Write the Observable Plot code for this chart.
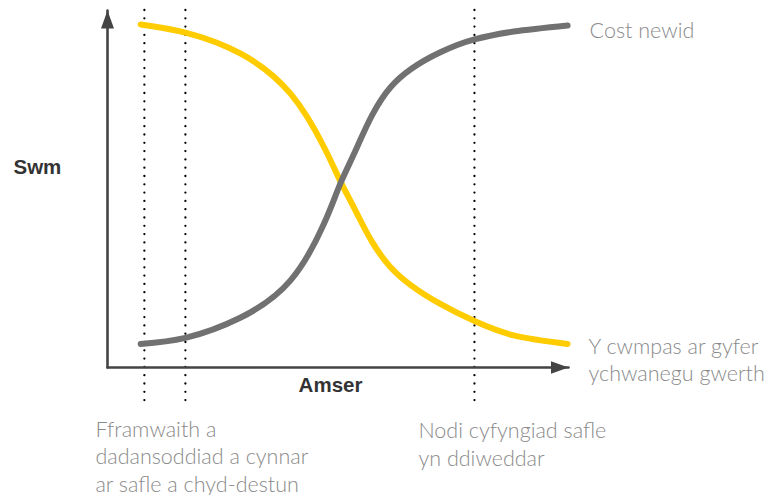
<!DOCTYPE html>
<html>
<head>
<meta charset="utf-8">
<script src="https://cdn.jsdelivr.net/npm/d3@7"></script>
<script src="https://cdn.jsdelivr.net/npm/@observablehq/plot@0.6"></script>
<style>
  html, body { margin: 0; padding: 0; background: #fff; }
  #chart svg { display: block; }
</style>
</head>
<body>
<div id="chart"></div>
<script>
// ---- Data ----
const time = [7.2, 16.9, 28.9, 39.7, 46.9, 50.5, 54.2, 61.4, 72.2, 79.6, 88.1, 99.8];
const scopeValues = [96.1, 93.8, 87.9, 76.7, 61.9, 52.2, 42.9, 28.1, 17.8, 13.0, 9.0, 6.6];
const costValues  = [6.6, 8.3, 14.0, 24.4, 40.1, 51.5, 61.9, 78.5, 88.3, 91.9, 94.1, 95.8];
const seriesNames = ["Y cwmpas ar gyfer\nychwanegu gwerth", "Cost newid"];
const milestones = [8.0, 16.9, 79.6];
const earlyLabel = "Fframwaith a\ndadansoddiad a cynnar\nar safle a chyd-destun";
const lateLabel = "Nodi cyfyngiad safle\nyn ddiweddar";
const yTitle = "Swm";
const xTitle = "Amser";
const xDomain = [0, 100];
const yDomain = [0, 100];

// ---- Derived tables ----
const scope = time.map((t, i) => ({series: seriesNames[0], t, v: scopeValues[i]}));
const cost = time.map((t, i) => ({series: seriesNames[1], t, v: costValues[i]}));
const axes = [
  {axis: "y", t: xDomain[0], v: yDomain[0]},
  {axis: "y", t: xDomain[0], v: yDomain[1]},
  {axis: "x", t: xDomain[0], v: yDomain[0]},
  {axis: "x", t: xDomain[1], v: yDomain[0]}
];

const AXIS = "#444444";
const YELLOW = "#FFCC00";
const GREY = "#717171";
const LABEL = "#8a8a8a";
const LIGHT_FONT = "Lato, 'Open Sans', sans-serif";
const LIGHT_SIZE = 21.5;
const BOLD_FONT = "'Liberation Sans', Arial, sans-serif";

// filled triangular arrowhead
function arrowHead(color, context) {
  const m = d3.create("svg:marker")
    .attr("viewBox", "-18 -6.5 18 13")
    .attr("markerUnits", "userSpaceOnUse")
    .attr("markerWidth", 18)
    .attr("markerHeight", 13)
    .attr("refX", 0)
    .attr("refY", 0)
    .attr("orient", "auto")
    .attr("fill", AXIS)
    .attr("stroke", "none");
  m.append("path").attr("d", "M-18,-6.5L0,0L-18,6.5Z");
  return m.node();
}

const chart = Plot.plot({
  width: 768,
  height: 495,
  marginLeft: 107,
  marginRight: 200,
  marginTop: 10,
  marginBottom: 128,
  x: {domain: xDomain, axis: null},
  y: {domain: yDomain, axis: null},
  style: {background: "#fff", overflow: "visible"},
  marks: [
    // dotted milestone lines
    Plot.ruleX(milestones, {
      stroke: "#000", strokeWidth: 2.3, strokeDasharray: "0 8.3",
      strokeLinecap: "round", insetBottom: -38, insetTop: 0
    }),
    // axes with arrowheads
    Plot.line(axes, {x: "t", y: "v", z: "axis", stroke: AXIS, strokeWidth: 2.6, markerEnd: arrowHead}),
    // curves
    Plot.line(scope, {x: "t", y: "v", stroke: YELLOW, strokeWidth: 6, curve: "natural", strokeLinecap: "round"}),
    Plot.line(cost, {x: "t", y: "v", stroke: GREY, strokeWidth: 6, curve: "natural", strokeLinecap: "round"}),
    // series labels at curve ends
    Plot.text(cost, Plot.selectLast({
      x: "t", y: "v", text: "series", textAnchor: "start", lineAnchor: "bottom",
      dx: 22, dy: 12.3, fill: LABEL, fontSize: LIGHT_SIZE, fontFamily: LIGHT_FONT, fontWeight: 300
    })),
    Plot.text(scope, Plot.selectLast({
      x: "t", y: "v", text: "series", textAnchor: "start", lineAnchor: "bottom",
      dx: 21, dy: 36.7, lineHeight: 1.24, fill: LABEL, fontSize: LIGHT_SIZE, fontFamily: LIGHT_FONT, fontWeight: 300
    })),
    // milestone labels
    Plot.text([earlyLabel], {
      x: () => milestones[0], frameAnchor: "bottom", textAnchor: "start", lineAnchor: "bottom",
      dx: -49, dy: 124, lineHeight: 1.26, fill: LABEL, fontSize: LIGHT_SIZE, fontFamily: LIGHT_FONT, fontWeight: 300
    }),
    Plot.text([lateLabel], {
      x: () => milestones[2], frameAnchor: "bottom", textAnchor: "start", lineAnchor: "bottom",
      dx: -56, dy: 98, lineHeight: 1.26, fill: LABEL, fontSize: LIGHT_SIZE, fontFamily: LIGHT_FONT, fontWeight: 300
    }),
    // axis titles
    Plot.text([yTitle], {
      frameAnchor: "top-left", textAnchor: "start", lineAnchor: "bottom",
      dx: -94, dy: 163.3, fill: "#333", fontSize: 20.5, fontWeight: "bold", fontFamily: BOLD_FONT
    }),
    Plot.text([xTitle], {
      frameAnchor: "bottom", textAnchor: "middle", lineAnchor: "bottom",
      dx: -7.5, dy: 24, fill: "#333", fontSize: 20.5, fontWeight: "bold", fontFamily: BOLD_FONT
    })
  ]
});

document.getElementById("chart").appendChild(chart);
</script>
</body>
</html>
